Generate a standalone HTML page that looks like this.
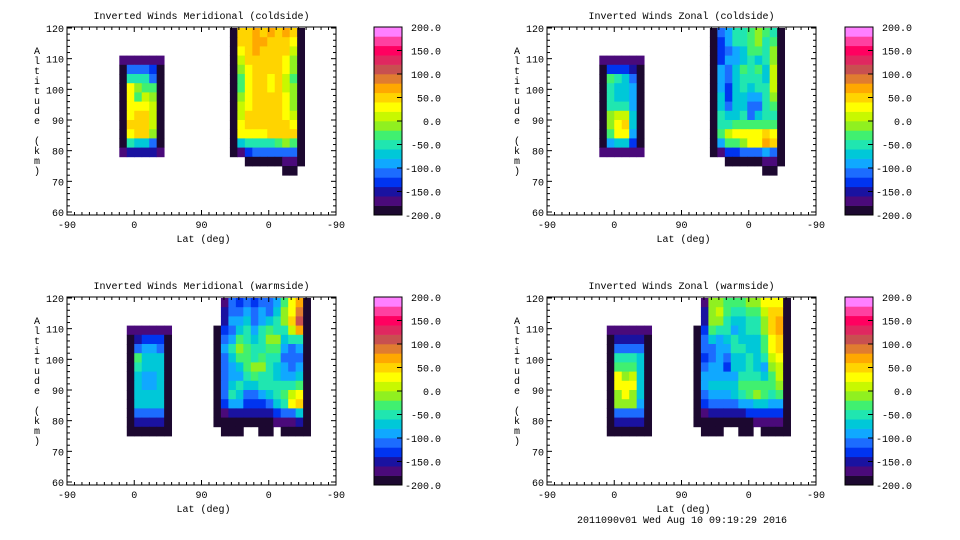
<!DOCTYPE html>
<html><head><meta charset="utf-8">
<style>
body{margin:0;background:#fff;}
svg{display:block;font-family:"Liberation Mono",monospace;font-size:10px;}
</style></head>
<body>
<svg id="chart" width="960" height="540" viewBox="0 0 960 540" xmlns="http://www.w3.org/2000/svg">
<rect width="960" height="540" fill="#fff"/>
<text x="682" y="523" text-anchor="middle">2011090v01 Wed Aug 10 09:19:29 2016</text>
</svg>
<script>
// ---- data ----
const panelTitles = ["Inverted Winds Meridional (coldside)","Inverted Winds Zonal (coldside)","Inverted Winds Meridional (warmside)","Inverted Winds Zonal (warmside)"];
const xTickLabels = ["-90","0","90","0","-90"];
const yTickLabels = [60,70,80,90,100,110,120];
const cbarTickLabels = ["200.0","150.0","100.0","50.0","0.0","-50.0","-100.0","-150.0","-200.0"];
const cbarTickValues = [200,150,100,50,0,-50,-100,-150,-200];
const levelColors = ["#1c0830","#4a0a7a","#1a12a0","#0034f0","#1c6cff","#10a8ff","#00c8d8","#20e6b0","#40f070","#90f020","#c8f800","#ffff00","#ffd400","#ffa800","#e07c30","#c85050","#e02860","#ff0060","#ff40a0","#ff80ff"];
// altitude rows start at 120 km, 3 km each; blobs in latitude-path units (0..360)
const p1Left = [
[-180,-180,-180,-180,-180,-180],[-200,-120,-110,-110,-140,-200],[-200,-60,-50,-50,-120,-200],[-200,20,-20,-30,-40,-200],
[-200,25,-40,10,-20,-200],[-200,30,20,30,0,-200],[-200,35,40,40,10,-200],[-200,40,55,55,10,-200],[-200,30,40,40,-20,-200],
[-200,-60,-70,-70,-110,-200],[-170,-150,-150,-150,-160,-170]];
const p1Right = [
[-200,40,45,60,55,70,50,60,40,-200],[-200,50,55,75,60,55,50,55,30,-200],[-200,30,55,60,50,40,45,40,10,-200],
[-200,0,40,45,50,40,45,30,-10,-200],[-200,-20,30,55,45,40,40,20,-20,-200],[-200,-30,30,55,45,30,40,10,-30,-200],
[-200,-30,20,50,45,25,45,10,-20,-200],[-200,-10,30,50,40,45,45,20,-10,-200],[-200,10,30,40,55,55,40,20,-10,-200],
[-200,10,40,55,50,50,45,30,0,-200],[-200,20,45,55,45,55,40,40,20,-200],[-200,30,30,35,30,45,40,50,50,-200],
[-200,-80,-60,-50,-50,-50,-40,-20,-30,-200],[-200,-170,-130,-120,-120,-120,-120,-110,-120,-200],
[null,null,-190,-190,-190,-190,-190,-170,-170,-190],[null,null,null,null,null,null,null,-190,-190,null]];
const p2Left = [
[-180,-180,-180,-180,-180,-180],[-200,-140,-130,-130,-150,-200],[-200,-40,-60,-70,-110,-200],[-200,-60,-70,-80,-100,-200],
[-200,-60,-80,-80,-100,-200],[-200,-50,-60,-60,-90,-200],[-200,-20,0,10,-80,-200],[-200,-10,30,40,-80,-200],
[-200,-30,20,30,-90,-200],[-200,-90,-80,-80,-130,-200],[-170,-170,-170,-170,-170,-170]];
const p2Right = [
[-200,-120,-90,-60,-60,-40,-20,-40,-60,-200],[-200,-130,-100,-60,-60,-30,-10,-50,-40,-200],[-200,-140,-110,-90,-80,-40,-30,-50,-20,-200],
[-200,-130,-100,-100,-80,-60,-70,-60,-20,-200],[-200,-100,-110,-80,-40,-60,-40,-70,0,-200],[-200,-90,-120,-80,-50,-60,-50,-70,10,-200],
[-200,-90,-130,-80,-60,-70,-60,-60,0,-200],[-200,-80,-130,-80,-70,-90,-90,-60,-20,-200],[-200,-70,-110,-80,-70,-120,-110,-60,-40,-200],
[-200,-60,-70,-70,-60,-110,-80,-50,-50,-200],[-200,-50,-50,-40,-40,-40,-40,-30,-30,-200],[-200,-40,10,20,20,30,20,40,30,-200],
[-200,-100,-40,-30,-20,20,30,60,50,-200],[-200,-170,-140,-130,-120,-120,-110,-100,-110,-200],
[null,null,-190,-190,-190,-190,-190,-180,-180,-190],[null,null,null,null,null,null,null,-190,-190,null]];
const p3Left = [
[-180,-180,-180,-180,-180,-180],[-200,-150,-140,-140,-140,-200],[-200,-110,-100,-100,-110,-200],[-200,-40,-70,-80,-80,-200],
[-200,-60,-80,-80,-80,-200],[-200,-70,-90,-100,-80,-200],[-200,-70,-90,-90,-80,-200],[-200,-70,-80,-80,-80,-200],
[-200,-70,-70,-70,-80,-200],[-200,-120,-110,-110,-120,-200],[-200,-160,-160,-160,-160,-200],[-185,-185,-185,-185,-185,-185]];
const p3Right = [
[null,-170,-120,-130,-110,-130,-110,-120,-90,-40,20,60,-200],[null,-160,-110,-120,-90,-120,-100,-110,-70,-20,30,80,-200],
[null,-150,-100,-100,-70,-110,-90,-80,-60,-10,40,110,-200],[-190,-140,-110,-80,-60,-90,-60,-40,-60,-60,10,60,-200],
[-200,-110,-90,-40,-50,-80,-60,-20,-20,-80,-60,-60,-200],[-200,-100,-60,-20,-30,-60,-60,-40,-30,-90,-110,-90,-200],
[-200,-110,-70,-40,-40,-50,-40,-60,-60,-110,-120,-110,-200],[-200,-120,-90,-80,-40,-10,-10,-50,-80,-100,-120,-100,-200],
[-200,-120,-90,-90,-60,-40,-50,-50,-70,-90,-90,-80,-200],[-200,-110,-70,-60,-80,-70,-60,-50,-50,-60,-50,-40,-200],
[-200,-110,-60,-70,-110,-120,-100,-70,-50,-30,0,20,-200],[-200,-140,-100,-100,-130,-140,-140,-110,-80,-50,30,40,-200],
[-200,-170,-160,-150,-160,-160,-160,-150,-130,-110,-110,-80,-200],[-200,-190,-185,-185,-190,-190,-190,-185,-180,-170,-170,-160,-200],
[null,-200,-190,-190,null,null,-190,-190,null,-190,-190,-190,-200]];
const p4Left = [
[-180,-180,-180,-180,-180,-180],[-200,-150,-150,-150,-150,-200],[-200,-120,-110,-110,-120,-200],[-200,-60,-60,-60,-80,-200],
[-200,-30,-40,-30,-80,-200],[-200,20,-10,10,-80,-200],[-200,20,20,20,-80,-200],[-200,-10,20,-10,-80,-200],
[-200,-10,-20,-20,-90,-200],[-200,-110,-110,-110,-120,-200],[-200,-160,-160,-160,-160,-200],[-185,-185,-185,-185,-185,-185]];
const p4Right = [
[null,-170,-20,-10,-40,-30,-40,-20,-20,20,20,30,-200],[null,-160,-10,0,-30,-50,-50,-40,-30,10,40,50,-200],
[null,-150,-20,-20,-50,-80,-70,-50,-50,-20,40,60,-200],[-190,-140,-40,-50,-60,-90,-70,-60,-60,-20,40,60,-200],
[-200,-110,-80,-90,-80,-60,-70,-80,-70,-30,30,50,-200],[-200,-120,-120,-100,-90,-60,-60,-70,-80,-40,20,40,-200],
[-200,-130,-110,-100,-110,-70,-70,-50,-70,-60,0,20,-200],[-200,-110,-90,-100,-130,-80,-70,-60,-80,-100,-20,10,-200],
[-200,-100,-90,-90,-100,-90,-60,-60,-60,-80,-30,0,-200],[-200,-100,-80,-80,-80,-70,-40,-30,-40,-40,-30,-10,-200],
[-200,-110,-100,-100,-90,-80,-60,-30,-20,-40,-50,-40,-200],[-200,-140,-120,-120,-120,-110,-100,-90,-80,-80,-90,-100,-200],
[-200,-170,-160,-160,-160,-160,-150,-140,-140,-140,-140,-130,-200],[-200,-190,-185,-185,-190,-190,-190,-185,-180,-175,-175,-170,-200],
[null,-200,-190,-190,null,null,-190,-190,null,-190,-190,-190,-200]];
const panelData = [[p1Left,p1Right],[p2Left,p2Right],[p3Left,p3Right],[p4Left,p4Right]];

// ---- layout (not data) ----
const layout = [
 {ox:0,oy:0,leftU:70,leftRow:3,rightU:218},
 {ox:480,oy:0,leftU:70,leftRow:3,rightU:218},
 {ox:0,oy:270,leftU:80,leftRow:3,rightU:196},
 {ox:480,oy:270,leftU:80,leftRow:3,rightU:196}];
const NS="http://www.w3.org/2000/svg";
const svg=document.getElementById('chart');
function mk(tag,attrs,parent){const e=document.createElementNS(NS,tag);for(const k in attrs)e.setAttribute(k,attrs[k]);(parent||svg).appendChild(e);return e;}
function colorFor(v){let i=Math.floor((v+200)/20);i=Math.max(0,Math.min(19,i));return levelColors[i];}

layout.forEach((L,p)=>{
  const g=mk('g',{});
  
  
  const X0=67+L.ox,X1=336+L.ox,Yt=27+L.oy,Yb=215+L.oy;
  const xU=u=>X0+u*(X1-X0)/360;
  const yA=a=>L.oy+28+(120-a)*(184/60);
  const t=mk('text',{x:(X0+X1)/2,y:L.oy+19,'text-anchor':'middle'},g);t.textContent=panelTitles[p];
  
  
  // cells
  const blobs=[[panelData[p][0],L.leftU,L.leftRow],[panelData[p][1],L.rightU,0]];
  blobs.forEach(([rows,u0,r0],bi)=>{
    rows.forEach((row,ri)=>{
      const aTop=120-3*(r0+ri),aBot=aTop-3;
      row.forEach((v,ci)=>{
        if(v===null)return;
        const xa=xU(u0+ci*10),xb=xU(u0+(ci+1)*10);
        const c=mk('rect',{x:xa.toFixed(2),y:Math.max(Yt,yA(aTop)).toFixed(2),width:(xb-xa+0.4).toFixed(2),height:(yA(aBot)-Math.max(Yt,yA(aTop))+0.4).toFixed(2),fill:colorFor(v)},g);
        
        
      });
    });
  });
  // frame
  const fr=mk('rect',{x:X0,y:Yt,width:X1-X0,height:Yb-Yt,fill:'none',stroke:'#000','stroke-width':1},g);
  
  
  // y ticks
  for(let a=60;a<=120;a+=2){const len=(a%10===0)?5:3;const y=yA(a);
    mk('line',{x1:X0,x2:X0+len,y1:y,y2:y,stroke:'#000'},g);mk('line',{x1:X1,x2:X1-len,y1:y,y2:y,stroke:'#000'},g);}
  yTickLabels.forEach(a=>{const tt=mk('text',{x:X0-3,y:yA(a)+4,'text-anchor':'end'},g);tt.textContent=a;
    
    });
  // x ticks
  for(let u=0;u<=360;u+=10){const len=(u%90===0)?5:3;const x=xU(u);
    mk('line',{x1:x,x2:x,y1:Yb,y2:Yb-len,stroke:'#000'},g);mk('line',{x1:x,x2:x,y1:Yt,y2:Yt+len,stroke:'#000'},g);}
  xTickLabels.forEach((lab,i)=>{const tt=mk('text',{x:xU(i*90),y:Yb+13,'text-anchor':'middle'},g);tt.textContent=lab;
    
    });
  const xt=mk('text',{x:(X0+X1)/2+2,y:Yb+27,'text-anchor':'middle'},g);xt.textContent='Lat (deg)';
  
  
  const ytit=mk('text',{x:37,y:0,'text-anchor':'middle'},g);
  
  
  'Altitude (km)'.split('').forEach((ch,i)=>{const s=mk('tspan',{x:L.ox+37,y:L.oy+54+i*10},ytit);s.textContent=ch;});
  // colorbar
  const CX=374+(p%2?471:0),CW=28;
  const cy=v=>Yt+(200-v)*(Yb-Yt)/400;
  levelColors.forEach((c,i)=>{const lo=-200+i*20;
    const r=mk('rect',{x:CX,y:cy(lo+20),width:CW,height:cy(lo)-cy(lo+20)+0.3,fill:c},g);
    
    });
  mk('rect',{x:CX,y:Yt,width:CW,height:Yb-Yt,fill:'none',stroke:'#000'},g);
  cbarTickValues.forEach((v,i)=>{const y=cy(v);
    mk('line',{x1:CX+CW-5,x2:CX+CW,y1:y,y2:y,stroke:'#000'},g);
    const tt=mk('text',{x:CX+67,y:y+(i===0?4:i===8?4:4),'text-anchor':'end'},g);tt.textContent=cbarTickLabels[i];
    
    });
});
</script>
</body></html>
